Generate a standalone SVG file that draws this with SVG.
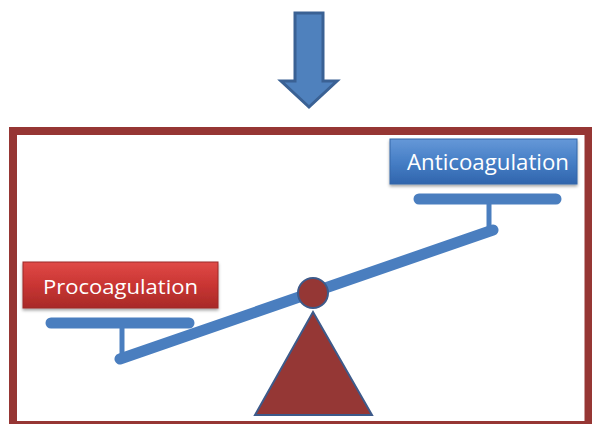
<svg xmlns="http://www.w3.org/2000/svg" width="592" height="424" viewBox="0 0 592 424">
<defs>
<linearGradient id="gBlue" x1="0" y1="0" x2="0" y2="1">
<stop offset="0" stop-color="#6598d8"/>
<stop offset="0.5" stop-color="#477fc6"/>
<stop offset="1" stop-color="#3065ad"/>
</linearGradient>
<linearGradient id="gRed" x1="0" y1="0" x2="0" y2="1">
<stop offset="0" stop-color="#e04a47"/>
<stop offset="0.5" stop-color="#c93533"/>
<stop offset="1" stop-color="#a82a28"/>
</linearGradient>
<filter id="sh" x="-10%" y="-20%" width="120%" height="150%">
<feDropShadow dx="0" dy="2" stdDeviation="1.5" flood-color="#000" flood-opacity="0.35"/>
</filter>
</defs>
<style>
.lbl{font-family:"Open Sans","Liberation Sans",sans-serif;fill:#ffffff}
.bar{stroke:#4a7ebf;stroke-width:11;stroke-linecap:round;fill:none}
.stem{stroke:#4a7ebf;stroke-width:5;fill:none}
</style>
<rect width="592" height="424" fill="#ffffff"/>
<g id="frame">
<rect x="13" y="131" width="575.5" height="294" fill="none" stroke="#963634" stroke-width="8"/>
</g>
<g id="arrow">
<polygon points="295,13 323,13 323,81 337,81 309,107 281,81 295,81" fill="#4f81bd" stroke="#3a6194" stroke-width="3" stroke-linejoin="miter"/>
</g>
<g id="connectors">
<line class="bar" x1="120" y1="359" x2="493" y2="230"/>
<line class="bar" x1="51" y1="323" x2="189" y2="323"/>
<line class="stem" x1="122" y1="323" x2="122" y2="358"/>
<line class="bar" x1="419" y1="199" x2="556" y2="199"/>
<line class="stem" x1="489" y1="199" x2="489" y2="230"/>
</g>
<g id="fulcrum">
<polygon points="313,312 372,415 255,415" fill="#953735" stroke="#3d5a8a" stroke-width="2"/>
<circle cx="313" cy="293" r="15" fill="#953735" stroke="#3d5a8a" stroke-width="2"/>
</g>
<g id="anticoagulation">
<rect x="390" y="139" width="187" height="45" fill="url(#gBlue)" stroke="#3466a8" stroke-width="1" filter="url(#sh)"/>
<text class="lbl" x="407" y="170" font-size="21" textLength="162" lengthAdjust="spacingAndGlyphs">Anticoagulation</text>
</g>
<g id="procoagulation">
<rect x="23" y="262" width="195" height="46" fill="url(#gRed)" stroke="#9c2b29" stroke-width="1" filter="url(#sh)"/>
<text class="lbl" x="43" y="294" font-size="20" textLength="155" lengthAdjust="spacingAndGlyphs">Procoagulation</text>
</g>
</svg>
